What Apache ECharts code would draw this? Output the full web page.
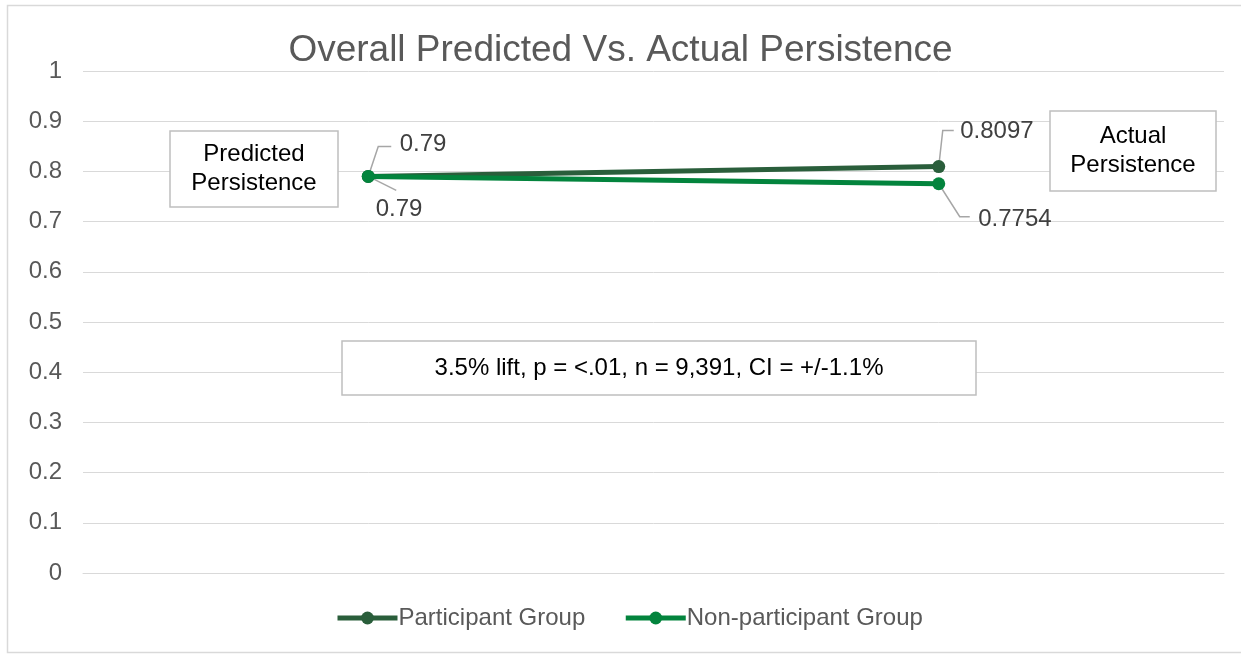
<!DOCTYPE html>
<html>
<head>
<meta charset="utf-8">
<title>Overall Predicted Vs. Actual Persistence</title>
<script src="https://cdn.jsdelivr.net/npm/echarts@6/dist/echarts.min.js"></script>
<style>
  html, body { margin: 0; padding: 0; background: #ffffff; }
  #chart { width: 1241px; height: 654px; }
</style>
</head>
<body>
<div id="chart"></div>
<script>
// Stages compared along the x axis
const stages = ['Predicted Persistence', 'Actual Persistence'];
// Persistence rate per group
const participantValues = [0.79, 0.8097];
const nonParticipantValues = [0.79, 0.7754];
const seriesNames = ['Participant Group', 'Non-participant Group'];
// Y axis ticks
const yMin = 0, yMax = 1, yStep = 0.1;
const statText = '3.5% lift, p = <.01, n = 9,391, CI = +/-1.1%';

const FONT = '"Liberation Sans", Arial, sans-serif';
const darkGreen = '#2a5e3b';
const green = '#03843d';
const leaderColor = '#a6a6a6';

const chart = echarts.init(document.getElementById('chart'), null, { renderer: 'canvas' });

function valueLabel(offset) {
  return {
    show: true,
    position: 'right',
    distance: 5,
    offset: offset,
    fontFamily: FONT,
    fontSize: 24,
    color: '#404040',
    formatter: p => String(p.value)
  };
}

const option = {
  animation: false,
  backgroundColor: '#ffffff',
  textStyle: { fontFamily: FONT },
  title: {
    text: 'Overall Predicted Vs. Actual Persistence',
    left: 'center',
    top: 27,
    textStyle: { fontFamily: FONT, fontSize: 37, fontWeight: 'normal', color: '#595959' }
  },
  legend: {
    bottom: 19,
    left: 330,
    itemWidth: 60,
    itemHeight: 16,
    itemGap: 38,
    lineStyle: { width: 5 },
    textStyle: { fontFamily: FONT, fontSize: 24, color: '#595959', padding: [0, 0, 0, -4] },
    data: seriesNames
  },
  grid: { left: 83, right: 17, top: 71, bottom: 81, containLabel: false },
  xAxis: {
    type: 'category',
    data: stages,
    boundaryGap: true,
    axisLine: { show: true, lineStyle: { color: '#d9d9d9', width: 1 } },
    axisTick: { show: false },
    axisLabel: { show: false },
    splitLine: { show: false }
  },
  yAxis: {
    type: 'value',
    min: yMin,
    max: yMax,
    interval: yStep,
    axisLine: { show: false },
    axisTick: { show: false },
    axisLabel: { fontFamily: FONT, fontSize: 24, color: '#595959', margin: 21 },
    splitLine: { lineStyle: { color: '#d9d9d9', width: 1 } }
  },
  series: [
    {
      name: seriesNames[0],
      type: 'line',
      data: [participantValues[0], { value: participantValues[1], label: valueLabel([10, -35]) }],
      symbol: 'circle',
      symbolSize: 13,
      lineStyle: { color: darkGreen, width: 5 },
      itemStyle: { color: darkGreen },
      label: valueLabel([20, -32]),
      z: 3
    },
    {
      name: seriesNames[1],
      type: 'line',
      data: [nonParticipantValues[0], { value: nonParticipantValues[1], label: valueLabel([28, 36]) }],
      symbol: 'circle',
      symbolSize: 13,
      lineStyle: { color: green, width: 5 },
      itemStyle: { color: green },
      label: valueLabel([-4, 33]),
      z: 4
    }
  ]
};

chart.setOption(option);

// Leader lines from each point toward its value label, anchored on the plotted point
function px(i, v) { return chart.convertToPixel({ gridIndex: 0 }, [i, v]); }
const leaders = [
  { pt: px(0, participantValues[0]), path: [[10, -30], [23, -30]] },
  { pt: px(0, nonParticipantValues[0]), path: [[28, 14]] },
  { pt: px(1, participantValues[1]), path: [[4, -36], [15, -36]] },
  { pt: px(1, nonParticipantValues[1]), path: [[21, 33], [31, 33]] }
];

// Callout boxes for the stage names and the statistics summary
function box(x, y, w, h, lines) {
  return {
    type: 'group',
    children: [
      { type: 'rect', shape: { x: x, y: y, width: w, height: h },
        style: { fill: '#ffffff', stroke: '#bfbfbf', lineWidth: 1.5 }, z: 10 },
      { type: 'text', x: x + w / 2, y: y + h / 2,
        style: { text: lines, fontFamily: FONT, fontSize: 24, fill: '#000000',
                 align: 'center', verticalAlign: 'middle', lineHeight: 29 }, z: 11 }
    ]
  };
}

const graphics = [
  { type: 'rect', shape: { x: 7.5, y: 5.5, width: 1250, height: 647 },
    style: { fill: 'none', stroke: '#d9d9d9', lineWidth: 1.5 }, silent: true, z: 0 }
];
leaders.forEach(l => {
  const pts = [[l.pt[0], l.pt[1]]].concat(l.path.map(d => [l.pt[0] + d[0], l.pt[1] + d[1]]));
  graphics.push({ type: 'polyline', shape: { points: pts },
    style: { stroke: leaderColor, lineWidth: 1.5, fill: null }, z: 2, silent: true });
});
graphics.push(box(170, 131, 168, 76, 'Predicted\nPersistence'));
graphics.push(box(1050, 111, 166, 80, 'Actual\nPersistence'));
graphics.push(box(342, 341, 634, 54, statText));

chart.setOption({ graphic: graphics });
</script>
</body>
</html>
